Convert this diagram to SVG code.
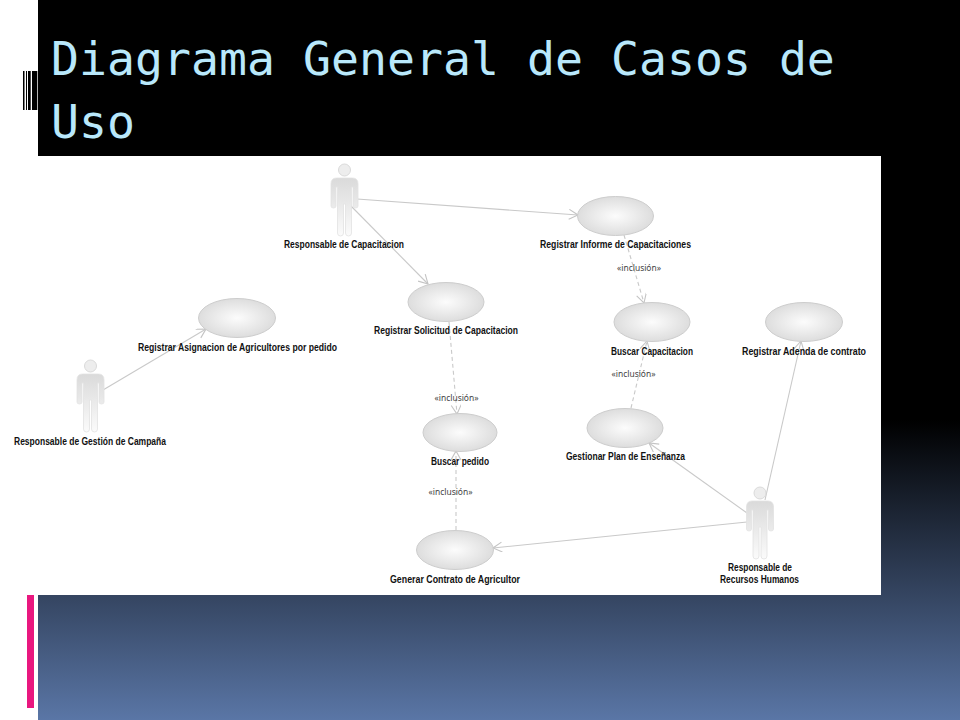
<svg xmlns="http://www.w3.org/2000/svg" width="960" height="720" viewBox="0 0 960 720">
<style>
.t{font-family:"DejaVu Sans Mono","Liberation Mono",monospace;font-size:46.500px;fill:#b9e8fb}
.n{font-family:"Liberation Sans",Arial,sans-serif;font-size:10px;font-weight:700;fill:#111;text-anchor:middle}
.s{font-family:"Noto Sans","Liberation Sans",sans-serif;font-size:9px;fill:#444;text-anchor:middle}
.uc{fill:url(#e);stroke:#cdcdcd;stroke-width:1}
.c{fill:none;stroke:#c9c9c9;stroke-width:1.1}
.d{stroke-dasharray:4 3}
</style>
<defs>
<linearGradient id="bg" gradientUnits="userSpaceOnUse" x1="0" y1="0" x2="0" y2="720"><stop offset="0" stop-color="#000"/><stop offset=".583" stop-color="#000"/><stop offset="1" stop-color="#5a76a6"/></linearGradient>
<radialGradient id="e"><stop offset="0" stop-color="#fcfcfc"/><stop offset="1" stop-color="#dddddd"/></radialGradient>
<linearGradient id="a" x1="0" y1="0" x2="0" y2="1"><stop offset="0" stop-color="#dadada"/><stop offset="1" stop-color="#fbfbfb"/></linearGradient>
<marker id="ah" markerWidth="12" markerHeight="12" refX="10" refY="5" orient="auto" markerUnits="userSpaceOnUse"><path d="M1 0L10 5L1 10" fill="none" stroke="#c4c4c4" stroke-width="1.1"/></marker>
<g id="actor"><circle cx="0" cy="-20" r="6" fill="#ededed" stroke="#dadada"/><path d="M-13.500 16V-6Q-13.500-12-8-12H8Q13.500-12 13.500-6V16Q13.500 18 11 18T8.500 16V-3H7V43Q7 46 4 46T1 43V14H-1V43Q-1 46-4 46T-7 43V-3H-8.500V16Q-8.500 18-11 18T-13.500 16Z" fill="url(#a)" stroke="#e2e2e2" stroke-width=".8"/></g>
</defs>
<rect width="960" height="720" fill="#fff"/>
<rect x="38" width="922" height="720" fill="url(#bg)"/>
<rect x="27" y="595" width="7" height="113" fill="#e9177f"/>
<g fill="#000"><rect x="23" y="71" width="1.500" height="39"/><rect x="26" y="71" width="1" height="39"/><rect x="28" y="71" width="2.700" height="39"/><rect x="32" y="71" width="5.300" height="39"/></g>
<text class="t" x="51" y="75">Diagrama General de Casos de</text>
<text class="t" x="51" y="138">Uso</text>
<rect x="38" y="156" width="843" height="439" fill="#fff"/>
<g id="connectors">
<path class="c" marker-end="url(#ah)" d="M357 199L578 215"/>
<path class="c" marker-end="url(#ah)" d="M351 206L428 284"/>
<path class="c" marker-end="url(#ah)" d="M103 390L206 329"/>
<path class="c d" marker-end="url(#ah)" d="M624 235L644 303"/>
<path class="c d" marker-end="url(#ah)" d="M449 322L457 414"/>
<path class="c d" marker-end="url(#ah)" d="M456 530V451"/>
<path class="c d" marker-end="url(#ah)" d="M631 408L647 341"/>
<path class="c" marker-end="url(#ah)" d="M747 513L649 443"/>
<path class="c" marker-end="url(#ah)" d="M747 522L493 548"/>
<path class="c" marker-end="url(#ah)" d="M765 500L801 341"/>
</g>
<g id="n1"><use href="#actor" x="344.500" y="190"/><text class="n" x="344" y="248" textLength="120" lengthAdjust="spacingAndGlyphs">Responsable de Capacitacion</text></g>
<g id="n2"><use href="#actor" x="90.500" y="386"/><text class="n" x="90" y="444.500" textLength="152" lengthAdjust="spacingAndGlyphs">Responsable de Gestión de Campaña</text></g>
<g id="n3"><use href="#actor" x="760" y="513"/><text class="n" x="760" y="571" textLength="64" lengthAdjust="spacingAndGlyphs">Responsable de</text><text class="n" x="759.500" y="583" textLength="79" lengthAdjust="spacingAndGlyphs">Recursos Humanos</text></g>
<g id="u1"><ellipse class="uc" cx="615.500" cy="216" rx="38" ry="19.500"/><text class="n" x="615.500" y="248" textLength="151" lengthAdjust="spacingAndGlyphs">Registrar Informe de Capacitaciones</text></g>
<g id="u2"><ellipse class="uc" cx="446" cy="302" rx="38" ry="19.500"/><text class="n" x="446" y="334" textLength="144" lengthAdjust="spacingAndGlyphs">Registrar Solicitud de Capacitacion</text></g>
<g id="u3"><ellipse class="uc" cx="237" cy="318" rx="38.500" ry="19.500"/><text class="n" x="237.500" y="350.500" textLength="199" lengthAdjust="spacingAndGlyphs">Registrar Asignacion de Agricultores por pedido</text></g>
<g id="u4"><ellipse class="uc" cx="652" cy="322" rx="38" ry="19.500"/><text class="n" x="652" y="354.500" textLength="82" lengthAdjust="spacingAndGlyphs">Buscar Capacitacion</text></g>
<g id="u5"><ellipse class="uc" cx="804" cy="322" rx="38.500" ry="19.500"/><text class="n" x="804" y="354.500" textLength="124" lengthAdjust="spacingAndGlyphs">Registrar Adenda de contrato</text></g>
<g id="u6"><ellipse class="uc" cx="625" cy="428" rx="38" ry="19.500"/><text class="n" x="625.500" y="460" textLength="119" lengthAdjust="spacingAndGlyphs">Gestionar Plan de Enseñanza</text></g>
<g id="u7"><ellipse class="uc" cx="460" cy="432.500" rx="37" ry="19"/><text class="n" x="460" y="465" textLength="58" lengthAdjust="spacingAndGlyphs">Buscar pedido</text></g>
<g id="u8"><ellipse class="uc" cx="455" cy="550" rx="38.500" ry="19.500"/><text class="n" x="455" y="583" textLength="130" lengthAdjust="spacingAndGlyphs">Generar Contrato de Agricultor</text></g>
<text class="s" x="639" y="271" textLength="44" lengthAdjust="spacingAndGlyphs">«inclusión»</text>
<text class="s" x="633.500" y="377" textLength="44" lengthAdjust="spacingAndGlyphs">«inclusión»</text>
<text class="s" x="456.500" y="401" textLength="44" lengthAdjust="spacingAndGlyphs">«inclusión»</text>
<text class="s" x="450.500" y="495" textLength="44" lengthAdjust="spacingAndGlyphs">«inclusión»</text>
</svg>
